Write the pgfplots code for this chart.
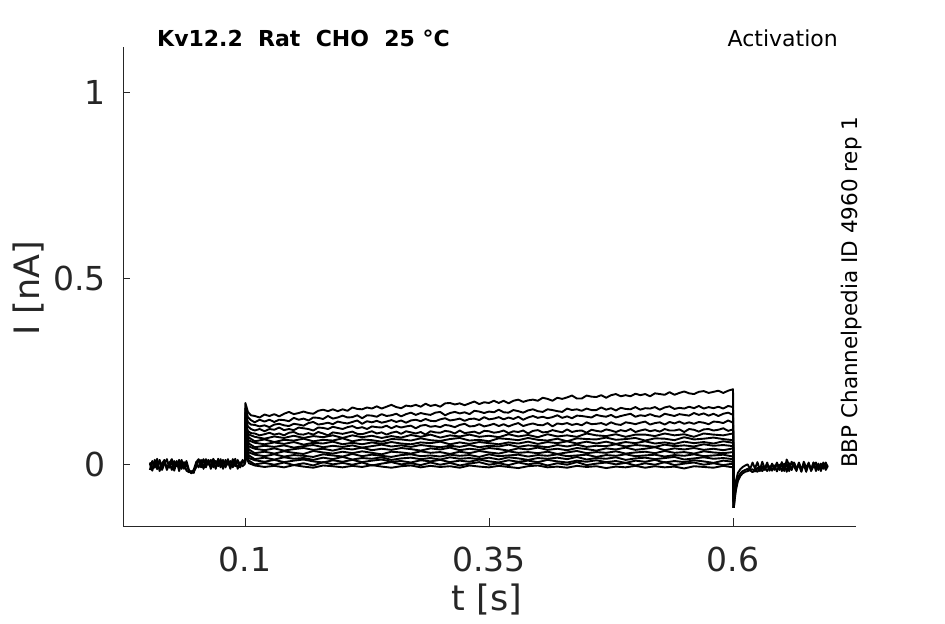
\documentclass[border=0pt]{standalone}
\usepackage{fontspec}
\setmainfont{DejaVu Sans}
\usepackage{pgfplots}
\pgfplotsset{compat=1.18}
\usepackage{pgfplotstable}
\definecolor{axgray}{HTML}{262626}

% baseline before the step (three superimposed sweeps)
\pgfplotstableread{
t a b c
0.0025 0.004 -0.016 0.001
0.005 -0.013 0.008 -0.018
0.0075 0.011 -0.010 0.005
0.01 -0.006 0.014 -0.014
0.0125 0.008 -0.019 0.011
0.015 -0.016 0.002 -0.009
0.0175 0.001 0.011 0.008
0.02 0.013 -0.013 -0.016
0.0225 -0.010 0.005 0.002
0.025 0.007 -0.016 0.013
0.0275 -0.018 0.008 -0.006
0.03 0.005 -0.006 0.008
0.0325 -0.006 0.011 -0.019
0.035 0.011 -0.013 0.005
0.0375 -0.013 0.005 -0.010
0.04 0.001 -0.018 0.008
0.0425 -0.020 -0.022 -0.015
0.045 -0.024 -0.019 -0.025
0.0475 -0.015 -0.024 -0.020
0.05 0.005 0.001 -0.009
0.0525 0.013 -0.009 0.011
0.055 -0.009 0.011 0.001
0.0575 0.011 -0.013 0.013
0.06 -0.006 0.013 -0.009
0.0625 0.008 -0.002 0.011
0.065 -0.013 0.011 -0.006
0.0675 0.014 -0.009 0.008
0.07 0.001 0.008 -0.013
0.0725 0.011 -0.006 0.014
0.075 -0.009 0.013 -0.002
0.0775 0.008 -0.013 0.011
0.08 -0.006 0.011 -0.009
0.0825 0.013 -0.002 0.008
0.085 -0.009 0.008 -0.013
0.0875 0.011 -0.009 0.013
0.09 -0.002 0.014 -0.006
0.0925 0.008 -0.013 0.011
0.095 -0.009 0.005 -0.009
0.0975 0.011 -0.006 0.008
0.1 0.000 0.000 0.000
}\pre

% upper five sweeps during the step
\pgfplotstableread{
t s1 s2 s3 s4 s5
0.1 0 0 0 0 0
0.1004 0.164 0.150 0.138 0.125 0.112
0.103 0.140 0.126 0.113 0.101 0.089
0.106 0.131 0.118 0.106 0.094 0.083
0.110 0.129 0.112 0.105 0.090 0.082
0.115 0.125 0.119 0.101 0.094 0.077
0.120 0.133 0.114 0.104 0.088 0.080
0.125 0.129 0.119 0.099 0.094 0.084
0.130 0.134 0.113 0.106 0.092 0.079
0.135 0.128 0.119 0.108 0.098 0.082
0.140 0.135 0.118 0.104 0.091 0.077
0.145 0.140 0.115 0.102 0.094 0.084
0.150 0.134 0.124 0.108 0.091 0.086
0.155 0.137 0.119 0.106 0.098 0.080
0.160 0.141 0.122 0.103 0.096 0.079
0.165 0.137 0.117 0.110 0.094 0.083
0.170 0.135 0.125 0.113 0.090 0.079
0.175 0.143 0.124 0.106 0.098 0.086
0.180 0.146 0.121 0.108 0.097 0.082
0.185 0.142 0.129 0.111 0.094 0.077
0.190 0.147 0.122 0.107 0.100 0.085
0.195 0.142 0.125 0.114 0.097 0.083
0.200 0.147 0.130 0.111 0.094 0.081
0.205 0.143 0.125 0.109 0.099 0.084
0.210 0.152 0.126 0.113 0.102 0.087
0.215 0.148 0.131 0.117 0.096 0.081
0.220 0.147 0.123 0.108 0.099 0.080
0.225 0.152 0.131 0.115 0.094 0.084
0.230 0.149 0.130 0.112 0.101 0.088
0.235 0.155 0.127 0.116 0.099 0.082
0.240 0.149 0.134 0.111 0.098 0.085
0.245 0.154 0.129 0.114 0.103 0.079
0.250 0.159 0.131 0.118 0.096 0.084
0.255 0.153 0.135 0.113 0.102 0.087
0.260 0.150 0.128 0.117 0.098 0.081
0.265 0.157 0.134 0.111 0.101 0.088
0.270 0.155 0.138 0.117 0.103 0.085
0.275 0.159 0.132 0.119 0.096 0.082
0.280 0.154 0.137 0.115 0.103 0.086
0.285 0.162 0.134 0.121 0.105 0.079
0.290 0.156 0.132 0.116 0.100 0.088
0.295 0.159 0.138 0.115 0.102 0.085
0.300 0.154 0.140 0.120 0.099 0.084
0.305 0.163 0.131 0.123 0.105 0.089
0.310 0.164 0.137 0.117 0.103 0.087
0.315 0.160 0.140 0.119 0.099 0.082
0.320 0.163 0.136 0.122 0.105 0.090
0.325 0.158 0.139 0.116 0.108 0.083
0.330 0.163 0.134 0.121 0.101 0.085
0.335 0.168 0.143 0.122 0.102 0.087
0.340 0.161 0.141 0.118 0.107 0.082
0.345 0.166 0.137 0.126 0.101 0.089
0.350 0.164 0.141 0.120 0.104 0.088
0.355 0.170 0.139 0.122 0.108 0.084
0.360 0.164 0.146 0.126 0.102 0.086
0.365 0.170 0.139 0.120 0.107 0.090
0.370 0.163 0.138 0.125 0.101 0.083
0.375 0.170 0.145 0.121 0.106 0.088
0.380 0.173 0.142 0.127 0.110 0.086
0.385 0.167 0.138 0.119 0.102 0.090
0.390 0.171 0.144 0.125 0.106 0.082
0.395 0.173 0.147 0.129 0.109 0.089
0.400 0.170 0.142 0.124 0.105 0.091
0.405 0.178 0.140 0.127 0.104 0.085
0.410 0.175 0.147 0.123 0.110 0.086
0.415 0.170 0.145 0.126 0.101 0.091
0.420 0.178 0.142 0.131 0.109 0.088
0.425 0.175 0.140 0.124 0.107 0.085
0.430 0.179 0.149 0.128 0.110 0.093
0.435 0.184 0.145 0.123 0.105 0.086
0.440 0.176 0.147 0.130 0.108 0.089
0.445 0.176 0.143 0.129 0.104 0.090
0.450 0.184 0.149 0.127 0.112 0.084
0.455 0.181 0.145 0.125 0.107 0.092
0.460 0.180 0.145 0.132 0.108 0.089
0.465 0.185 0.152 0.129 0.110 0.087
0.470 0.178 0.146 0.127 0.105 0.093
0.475 0.185 0.150 0.132 0.112 0.090
0.480 0.188 0.144 0.125 0.107 0.086
0.485 0.182 0.151 0.129 0.105 0.091
0.490 0.185 0.148 0.132 0.112 0.088
0.495 0.182 0.147 0.135 0.110 0.094
0.500 0.189 0.153 0.127 0.107 0.086
0.505 0.185 0.146 0.131 0.111 0.090
0.510 0.188 0.150 0.129 0.114 0.093
0.515 0.182 0.149 0.134 0.106 0.088
0.520 0.190 0.153 0.129 0.110 0.091
0.525 0.188 0.146 0.127 0.112 0.087
0.530 0.186 0.152 0.135 0.106 0.094
0.535 0.193 0.155 0.132 0.113 0.090
0.540 0.186 0.148 0.129 0.109 0.090
0.545 0.191 0.151 0.134 0.114 0.093
0.550 0.195 0.149 0.132 0.108 0.086
0.555 0.190 0.154 0.130 0.112 0.094
0.560 0.188 0.150 0.137 0.108 0.092
0.565 0.194 0.156 0.132 0.113 0.087
0.570 0.196 0.149 0.136 0.111 0.093
0.575 0.191 0.153 0.130 0.107 0.094
0.580 0.194 0.150 0.135 0.114 0.090
0.585 0.197 0.154 0.129 0.113 0.092
0.590 0.191 0.149 0.135 0.110 0.096
0.595 0.197 0.156 0.138 0.117 0.089
0.600 0.201 0.153 0.132 0.111 0.093
0.6008 -0.118 -0.118 -0.118 -0.118 -0.118
}\stepA

% lower eleven sweeps during the step
\pgfplotstableread{
t u6 u7 u8 u9 u10 u11 u12 u13 u14 u15 u16
0.1 0 0 0 0 0 0 0 0 0 0 0
0.1004 0.101 0.093 0.085 0.077 0.069 0.061 0.053 0.045 0.038 0.031 0.024
0.104 0.079 0.071 0.063 0.055 0.047 0.039 0.031 0.023 0.016 0.009 0.002
0.11 0.073 0.061 0.057 0.045 0.041 0.029 0.025 0.013 0.010 -0.001 -0.004
0.12 0.068 0.066 0.053 0.049 0.037 0.033 0.021 0.017 0.006 0.003 -0.008
0.13 0.074 0.059 0.058 0.046 0.042 0.028 0.026 0.012 0.011 -0.002 -0.005
0.14 0.070 0.065 0.054 0.050 0.036 0.034 0.020 0.018 0.005 0.004 -0.009
0.15 0.076 0.063 0.059 0.044 0.040 0.030 0.024 0.014 0.009 -0.003 -0.003
0.16 0.070 0.068 0.052 0.048 0.043 0.027 0.022 0.016 0.012 0.002 -0.007
0.17 0.075 0.061 0.057 0.051 0.038 0.035 0.019 0.011 0.007 -0.004 -0.010
0.18 0.072 0.065 0.055 0.045 0.041 0.031 0.026 0.017 0.004 0.005 -0.004
0.19 0.077 0.063 0.060 0.049 0.036 0.028 0.023 0.013 0.010 -0.001 -0.006
0.20 0.070 0.069 0.053 0.046 0.042 0.033 0.020 0.019 0.006 0.003 -0.009
0.21 0.077 0.061 0.057 0.050 0.039 0.029 0.027 0.012 0.011 -0.002 -0.005
0.22 0.072 0.066 0.053 0.044 0.044 0.034 0.021 0.016 0.005 0.004 -0.008
0.23 0.076 0.064 0.058 0.048 0.037 0.030 0.025 0.014 0.009 -0.004 -0.003
0.24 0.070 0.060 0.054 0.052 0.041 0.026 0.022 0.018 0.012 0.001 -0.007
0.25 0.075 0.067 0.059 0.047 0.038 0.033 0.019 0.011 0.006 0.005 -0.010
0.26 0.071 0.066 0.055 0.050 0.043 0.031 0.024 0.015 0.008 -0.001 -0.006
0.27 0.078 0.063 0.053 0.046 0.040 0.028 0.026 0.017 0.004 0.002 -0.004
0.28 0.073 0.069 0.058 0.051 0.036 0.034 0.021 0.013 0.010 -0.003 -0.009
0.29 0.079 0.064 0.056 0.048 0.042 0.030 0.023 0.016 0.007 0.004 -0.005
0.30 0.071 0.062 0.060 0.045 0.039 0.032 0.020 0.012 0.011 -0.002 -0.008
0.31 0.077 0.067 0.053 0.049 0.044 0.027 0.025 0.018 0.005 0.003 -0.006
0.32 0.074 0.070 0.058 0.046 0.037 0.033 0.022 0.014 0.009 -0.004 -0.010
0.33 0.079 0.063 0.054 0.051 0.041 0.029 0.024 0.016 0.006 0.001 -0.004
0.34 0.073 0.065 0.059 0.045 0.038 0.035 0.019 0.013 0.012 0.005 -0.007
0.35 0.076 0.061 0.056 0.049 0.043 0.031 0.026 0.017 0.007 -0.002 -0.009
0.36 0.072 0.069 0.053 0.047 0.040 0.028 0.021 0.012 0.004 0.002 -0.005
0.37 0.080 0.067 0.058 0.052 0.036 0.034 0.023 0.018 0.010 -0.003 -0.008
0.38 0.074 0.064 0.055 0.046 0.042 0.030 0.025 0.015 0.006 0.004 -0.011
0.39 0.078 0.070 0.060 0.050 0.039 0.032 0.020 0.011 0.009 -0.001 -0.006
0.40 0.072 0.065 0.054 0.048 0.044 0.029 0.024 0.016 0.005 0.003 -0.004
0.41 0.080 0.063 0.059 0.045 0.038 0.033 0.022 0.014 0.011 -0.004 -0.009
0.42 0.074 0.068 0.056 0.051 0.041 0.027 0.026 0.017 0.007 0.002 -0.007
0.43 0.077 0.061 0.061 0.047 0.037 0.031 0.021 0.013 0.004 -0.002 -0.010
0.44 0.073 0.069 0.055 0.052 0.043 0.035 0.023 0.019 0.009 0.005 -0.005
0.45 0.082 0.067 0.060 0.046 0.040 0.029 0.025 0.012 0.006 -0.003 -0.008
0.46 0.077 0.066 0.055 0.049 0.036 0.032 0.019 0.016 0.010 0.001 -0.006
0.47 0.075 0.071 0.060 0.048 0.042 0.030 0.024 0.014 0.005 0.004 -0.011
0.48 0.080 0.065 0.054 0.053 0.039 0.034 0.022 0.018 0.008 -0.001 -0.007
0.49 0.073 0.067 0.059 0.047 0.044 0.028 0.026 0.011 0.003 0.003 -0.009
0.50 0.079 0.070 0.056 0.051 0.038 0.031 0.021 0.015 0.009 -0.004 -0.005
0.51 0.079 0.063 0.061 0.049 0.041 0.033 0.023 0.017 0.006 0.002 -0.010
0.52 0.075 0.069 0.055 0.046 0.045 0.029 0.025 0.013 0.011 -0.002 -0.006
0.53 0.082 0.068 0.058 0.052 0.037 0.035 0.020 0.016 0.004 0.005 -0.009
0.54 0.077 0.064 0.054 0.048 0.042 0.030 0.024 0.019 0.008 -0.003 -0.007
0.55 0.080 0.072 0.060 0.050 0.039 0.032 0.022 0.012 0.005 0.001 -0.012
0.56 0.073 0.066 0.056 0.047 0.043 0.028 0.026 0.015 0.010 0.004 -0.006
0.57 0.082 0.068 0.059 0.053 0.038 0.034 0.021 0.018 0.007 -0.002 -0.008
0.58 0.079 0.071 0.055 0.049 0.041 0.031 0.023 0.014 0.003 0.002 -0.010
0.59 0.077 0.067 0.061 0.051 0.037 0.029 0.025 0.016 0.009 -0.003 -0.005
0.60 0.082 0.064 0.057 0.048 0.042 0.032 0.020 0.013 0.006 0.001 -0.009
0.6008 -0.118 -0.118 -0.118 -0.118 -0.118 -0.118 -0.118 -0.118 -0.118 -0.118 -0.118
}\stepB

% tail current and baseline after the step
\pgfplotstableread{
t a b c
0.6008 -0.118 -0.118 -0.118
0.6015 -0.085 -0.095 -0.100
0.603 -0.045 -0.060 -0.070
0.605 -0.024 -0.036 -0.046
0.6075 -0.014 -0.025 -0.032
0.61 -0.008 -0.019 -0.025
0.6125 -0.004 -0.016 -0.021
0.615 -0.001 -0.013 -0.019
0.6175 -0.014 -0.016 -0.017
0.62 0.004 -0.014 -0.022
0.6225 -0.012 -0.020 -0.016
0.625 0.005 -0.010 -0.021
0.6275 -0.016 -0.019 -0.012
0.63 0.006 -0.008 -0.019
0.6325 -0.013 -0.016 -0.010
0.635 0.004 -0.003 -0.019
0.6375 -0.018 -0.015 -0.006
0.64 0.001 0.000 -0.018
0.6425 -0.013 -0.016 -0.004
0.645 0.004 0.002 -0.020
0.6475 -0.016 -0.013 -0.002
0.65 0.002 0.005 -0.019
0.6525 -0.019 -0.016 0.001
0.655 0.012 0.001 -0.021
0.6575 -0.003 -0.019 0.002
0.66 -0.016 0.006 -0.016
0.6625 0.003 -0.006 0.004
0.665 -0.013 -0.019 -0.013
0.6675 0.001 0.004 -0.002
0.67 -0.019 -0.013 -0.021
0.6725 0.006 -0.002 0.001
0.675 -0.009 -0.021 -0.016
0.6775 0.001 0.001 0.004
0.68 -0.016 -0.016 -0.019
0.6825 0.004 0.004 -0.006
0.685 -0.013 -0.019 0.004
0.6875 0.001 -0.002 -0.016
0.69 -0.019 -0.013 0.001
0.6925 0.004 0.001 -0.013
0.695 -0.009 -0.016 0.004
0.697 -0.002 -0.006 -0.009
}\post

\begin{document}
\begin{tikzpicture}
\path[use as bounding box] (0,0) rectangle (945bp,624bp);
\begin{axis}[
  at={(123bp,98bp)}, anchor=south west,
  scale only axis, width=733bp, height=479bp,
  xmin=-0.025, xmax=0.726, ymin=-0.1667, ymax=1.121,
  axis x line*=bottom, axis y line*=left,
  axis line style={-, axgray, line width=0.8bp},
  tick align=inside, major tick length=7.5bp,
  tick style={axgray, line width=0.8bp},
  xtick={0.1,0.35,0.6}, xticklabels={0.1,0.35,0.6},
  ytick={0,0.5,1}, yticklabels={0,0.5,1},
  /pgf/number format/assume math mode=true,
  xticklabel style={anchor=base, inner sep=0pt, yshift=-45bp,
    font=\fontsize{33bp}{40bp}\selectfont, text=axgray},
  yticklabel style={anchor=east, inner sep=0pt, xshift=-17bp,
    font=\fontsize{33bp}{40bp}\selectfont, text=axgray},
]
\pgfplotsinvokeforeach{a,b,c}{
  \addplot[black, line width=1.9bp, line join=round] table[x=t, y=#1] {\pre};
}
\pgfplotsinvokeforeach{u6,u7,u8,u9,u10,u11,u12,u13,u14,u15,u16}{
  \addplot[black, line width=1.9bp, line join=round] table[x=t, y=#1] {\stepB};
}
\pgfplotsinvokeforeach{s1,s2,s3,s4,s5}{
  \addplot[black, line width=1.9bp, line join=round] table[x=t, y=#1] {\stepA};
}
\pgfplotsinvokeforeach{a,b,c}{
  \addplot[black, line width=1.9bp, line join=round] table[x=t, y=#1] {\post};
}
\end{axis}
\node[anchor=base west, inner sep=0pt, font=\bfseries\fontsize{22bp}{26bp}\selectfont]
  at (157bp,577bp) {Kv12.2~~Rat~~CHO~~25 °C};
\node[anchor=base east, inner sep=0pt, font=\fontsize{22bp}{26bp}\selectfont]
  at (838bp,577bp) {Activation};
\node[rotate=90, anchor=base west, inner sep=0pt, font=\fontsize{21.5bp}{26bp}\selectfont]
  at (857bp,156bp) {BBP Channelpedia ID 4960 rep 1};
\node[anchor=base, inner sep=0pt, font=\fontsize{35bp}{42bp}\selectfont, text=axgray]
  at (487bp,14bp) {t [s]};
\node[rotate=90, anchor=base, inner sep=0pt, font=\fontsize{35bp}{42bp}\selectfont, text=axgray]
  at (39bp,336bp) {I [nA]};
\end{tikzpicture}
\end{document}
